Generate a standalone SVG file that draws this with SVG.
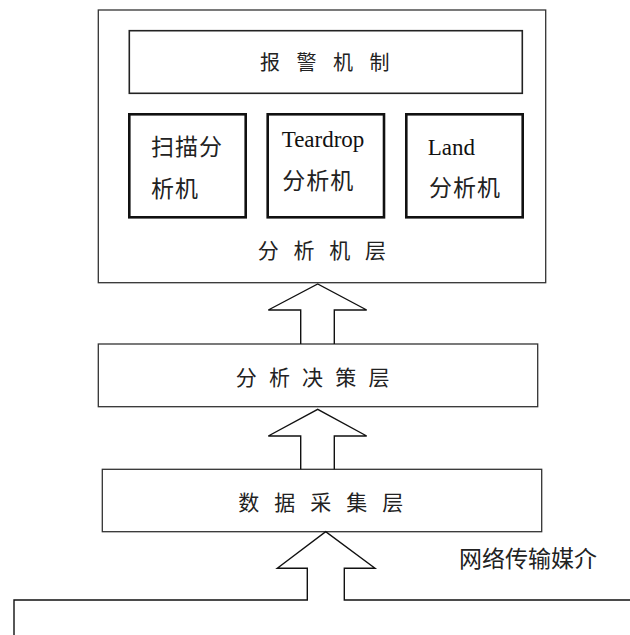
<svg xmlns="http://www.w3.org/2000/svg" width="630" height="635" viewBox="0 0 630 635">
<style>
.cjk{font-family:"Noto Sans CJK SC","Liberation Serif",sans-serif;fill:#222;}
.lat{font-family:"Liberation Serif",serif;fill:#111;}
.box{fill:none;stroke:#333;stroke-width:1.3;}
.thick{fill:none;stroke:#111;stroke-width:2.6;}
.mid{fill:none;stroke:#222;stroke-width:1.6;}
.arrow{fill:none;stroke:#111;stroke-width:1.4;stroke-linejoin:miter;}
</style>
<rect width="630" height="635" fill="#fff"/>
<g id="analysis-layer">
<rect class="box" x="98.3" y="10" width="447.4" height="272.7"/>
<text class="cjk" x="257.7" y="258" font-size="21" letter-spacing="14.8">分析机层</text>
</g>
<g id="alarm">
<rect class="mid" x="129.3" y="30.7" width="393" height="62.6"/>
<text class="cjk" x="260" y="70.3" font-size="20" letter-spacing="16.5">报警机制</text>
</g>
<g id="scan">
<rect class="thick" x="129.3" y="114.3" width="116.4" height="103"/>
<text class="cjk" x="151" y="155" font-size="23" letter-spacing="1">扫描分</text>
<text class="cjk" x="151" y="197" font-size="23" letter-spacing="1">析机</text>
</g>
<g id="teardrop">
<rect class="thick" x="267.7" y="114.3" width="116.3" height="103"/>
<text class="lat" x="281.7" y="146.7" font-size="23">Teardrop</text>
<text class="cjk" x="282.3" y="188.5" font-size="23" letter-spacing="1">分析机</text>
</g>
<g id="land">
<rect class="thick" x="406.3" y="114.3" width="116.4" height="103"/>
<text class="lat" x="427.7" y="155" font-size="23">Land</text>
<text class="cjk" x="429" y="196" font-size="23" letter-spacing="1">分析机</text>
</g>
<g id="decision-layer">
<rect class="box" x="98.3" y="344" width="439.4" height="62.7"/>
<text class="cjk" x="235.7" y="385" font-size="21" letter-spacing="12.2">分析决策层</text>
</g>
<g id="collection-layer">
<rect class="box" x="102.3" y="469.3" width="439.4" height="62.4"/>
<text class="cjk" x="238.3" y="509.5" font-size="21" letter-spacing="15">数据采集层</text>
</g>
<g id="medium">
<text class="cjk" x="459" y="567" font-size="23">网络传输媒介</text>
</g>
<g id="connectors">
<polyline class="arrow" points="300.7,344 300.7,310 268.3,310 317.7,284 366.7,310 334.3,310 334.3,344"/>
<polyline class="arrow" points="300.7,469.3 300.7,436 268.3,436 317.7,409.3 366.7,436 334.3,436 334.3,469.3"/>
<polyline class="arrow" points="14,635 14,600 307.3,600 307.3,568.3 277.3,568.3 325.7,531.7 375,568.3 344.3,568.3 344.3,600 630,600"/>
</g>
</svg>
